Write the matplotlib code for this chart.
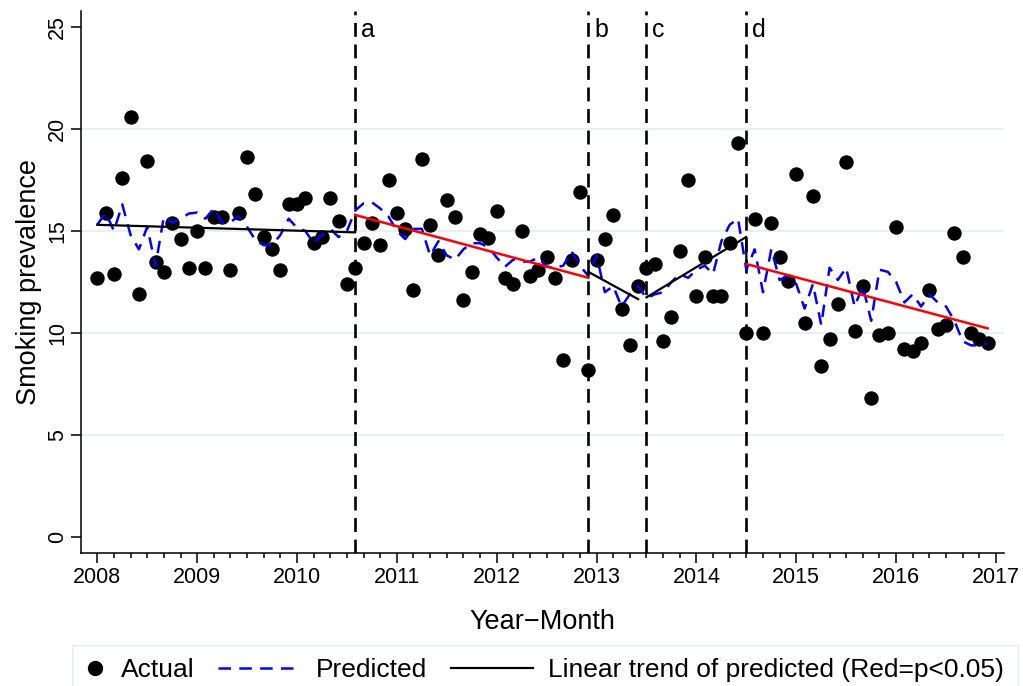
import numpy as np
import matplotlib
matplotlib.use("Agg")
import matplotlib.pyplot as plt
from matplotlib.lines import Line2D
from matplotlib.legend_handler import HandlerLine2D
from matplotlib.ticker import MultipleLocator

plt.rcParams["font.family"] = ["Liberation Sans", "DejaVu Sans"]
plt.rcParams["lines.scale_dashes"] = False

# monthly series, Jan 2008 .. Dec 2016
START_YEAR = 2008
actual = [
    12.7, 15.9, 12.9, 17.6, 20.6, 11.9, 18.4, 13.5, 13.0, 15.4, 14.6, 13.2,
    15.0, 13.2, 15.7, 15.7, 13.1, 15.9, 18.6, 16.8, 14.7, 14.1, 13.1, 16.3,
    16.3, 16.6, 14.4, 14.7, 16.6, 15.5, 12.4, 13.2, 14.4, 15.4, 14.3, 17.5,
    15.9, 15.1, 12.1, 18.5, 15.3, 13.8, 16.5, 15.7, 11.6, 13.0, 14.85, 14.65,
    16.0, 12.7, 12.4, 15.0, 12.8, 13.1, 13.7, 12.7, 8.7, 13.6, 16.9, 8.2,
    13.6, 14.6, 15.8, 11.2, 9.4, 12.3, 13.2, 13.4, 9.6, 10.8, 14.0, 17.5,
    11.8, 13.7, 11.8, 11.8, 14.4, 19.3, 10.0, 15.6, 10.0, 15.4, 13.7, 12.55,
    17.8, 10.5, 16.7, 8.4, 9.7, 11.4, 18.35, 10.1, 12.3, 6.8, 9.9, 10.0,
    15.2, 9.2, 9.1, 9.5, 12.1, 10.2, 10.4, 14.9, 13.7, 10.0, 9.7, 9.5,
]
predicted = [
    15.3, 15.9, 15.0, 16.3, 14.8, 14.1, 15.2, 13.3, 15.7, 15.4, 15.6, 15.85,
    15.9, 15.6, 16.1, 15.4, 15.45, 15.7, 15.2, 14.55, 14.3, 14.3, 14.8, 15.6,
    15.15, 15.0, 14.4, 14.8, 15.1, 14.7, 15.0, 16.0, 16.35, 16.4, 16.1, 15.7,
    15.0, 14.6, 15.1, 15.1, 13.8, 14.5, 13.8, 13.6, 14.1, 14.4, 14.4, 14.2,
    13.7, 13.25, 13.6, 13.5, 13.5, 13.7, 13.25, 13.2, 13.3, 14.0, 13.3, 12.8,
    13.8, 12.0, 12.3, 11.3, 11.9, 12.3, 11.7, 11.9, 12.0, 12.5, 12.9, 12.7,
    13.1, 13.3, 12.9, 14.5, 15.3, 15.6, 13.1, 14.1, 12.0, 14.1, 12.6, 12.8,
    12.4, 11.2, 12.4, 10.4, 13.2, 12.6, 13.2, 11.3, 12.3, 10.6, 13.1, 13.0,
    12.5, 11.5, 11.9, 11.3, 11.9, 11.5, 11.3, 10.6, 9.6, 9.4, 9.4, 9.5,
]

# linear trends of predicted, per segment (month index, value)
black_segments = [
    ([0, 31, 31], [15.3, 14.93, 15.78]),
    ([59, 59, 65], [12.71, 13.0, 11.66]),
    ([66, 78, 78], [11.75, 14.71, 13.38]),
]
red_segments = [
    ([31, 59], [15.78, 12.71]),
    ([78, 107], [13.38, 10.23]),
]

# interruption points (month index) and their labels
break_months = [31, 59, 66, 78]
break_labels = ["a", "b", "c", "d"]


def to_year(m):
    return START_YEAR + np.asarray(m, dtype=float) / 12.0


class DotHandler(HandlerLine2D):
    # narrow key for the marker-only entry
    def legend_artist(self, legend, orig_handle, fontsize, handlebox):
        handlebox.width = 0.75 * fontsize
        return super().legend_artist(legend, orig_handle, fontsize, handlebox)


fig = plt.figure(figsize=(10.23, 6.86), dpi=100)
ax = fig.add_axes([0.0789, 0.1934, 0.9025, 0.791])

months = np.arange(len(actual))
x = to_year(months)

for v in [5, 10, 15, 20]:
    ax.axhline(v, color="#e6eff0", lw=1.3, zorder=0)

for m, lab in zip(break_months, break_labels):
    ax.axvline(to_year(m), color="black", lw=1.9, dashes=(10, 5.5), zorder=1)
    ax.text(to_year(m) + 0.06, 24.85, lab, fontsize=18, ha="left", va="center")

ax.scatter(x, actual, s=108, color="black", zorder=2, linewidths=0)
ax.plot(x, predicted, color="#0000ff", lw=1.8, dashes=(9, 6), zorder=3)
for mm, vv in black_segments:
    ax.plot(to_year(mm), vv, color="black", lw=1.6, zorder=4)
for mm, vv in red_segments:
    ax.plot(to_year(mm), vv, color="red", lw=1.8, zorder=4)

ax.set_xlim(2007.834, 2017.08)
ax.set_ylim(-0.78, 25.78)
ax.spines["top"].set_visible(False)
ax.spines["right"].set_visible(False)
for s in ["left", "bottom"]:
    ax.spines[s].set_linewidth(1.1)

ax.set_xticks(range(2008, 2018))
ax.xaxis.set_minor_locator(MultipleLocator(1 / 6))
ax.set_yticks([0, 5, 10, 15, 20, 25])
ax.tick_params(axis="both", which="major", length=7, width=1.1, labelsize=15.5)
ax.tick_params(axis="x", which="minor", length=3.6, width=1.1)
ax.tick_params(axis="x", which="major", pad=3)
ax.tick_params(axis="y", which="major", pad=2)
for lbl in ax.get_yticklabels():
    lbl.set_rotation(90)
    lbl.set_va("center")

ax.set_xlabel("Year\u2212Month", fontsize=19.5, labelpad=15)
ax.set_ylabel("Smoking prevalence", fontsize=19.5, labelpad=4)

dot = Line2D([], [], marker="o", color="black", linestyle="none", markersize=10)
dash = Line2D([], [], color="#0000ff", lw=1.8, dashes=(9, 6))
solid = Line2D([], [], color="black", lw=1.6)
fig.legend([dot, dash, solid],
           ["Actual", "Predicted", "Linear trend of predicted (Red=p<0.05)"],
           handler_map={dot: DotHandler()},
           loc="upper left", bbox_to_anchor=(72 / 1023, 1 - 645 / 686),
           ncol=3, fontsize=19, frameon=True, fancybox=False,
           edgecolor="#dfeaeb", handlelength=3.1, handletextpad=0.6,
           columnspacing=0.9, borderpad=0.5, borderaxespad=0)

fig.savefig("out.png", dpi=100)
